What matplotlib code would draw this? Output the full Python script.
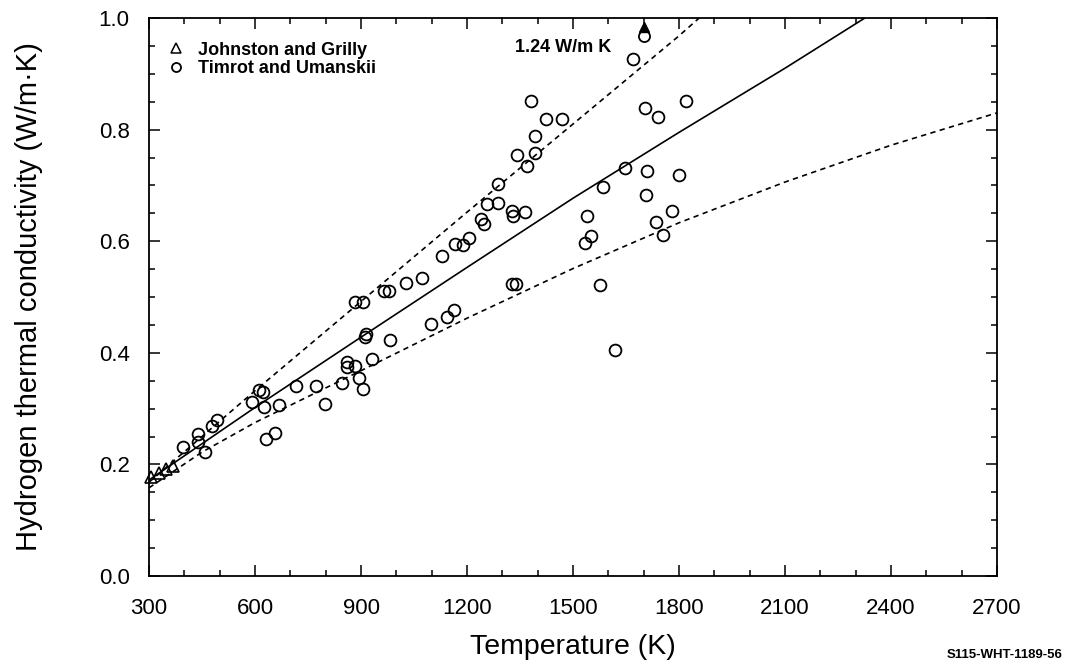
import matplotlib
matplotlib.use("Agg")
import matplotlib.pyplot as plt
from matplotlib.lines import Line2D
from matplotlib.ticker import MultipleLocator

plt.rcParams['font.family'] = ['Liberation Sans', 'DejaVu Sans']

# Johnston and Grilly measurements
jg_temp = [305, 327, 348, 368]
jg_k = [0.178, 0.184, 0.191, 0.198]

# Timrot and Umanskii measurements
tu_temp = [396, 439, 439, 459, 479, 493, 592, 612, 623, 626, 669, 632, 657,
           717, 774, 799, 845, 859, 859, 884, 893, 907, 930, 910, 913, 981,
           884, 907, 964, 978, 1026, 1074, 1097, 1143, 1162, 1327, 1338,
           1128, 1165, 1188, 1205, 1239, 1248, 1256, 1287, 1287, 1327, 1330,
           1364, 1341, 1370, 1392, 1392, 1381, 1424, 1469, 1670, 1704, 1741,
           1820, 1648, 1585, 1710, 1801, 1707, 1540, 1551, 1534, 1781, 1736,
           1756, 1577, 1620]
tu_k = [0.231, 0.254, 0.240, 0.222, 0.269, 0.280, 0.312, 0.333, 0.330, 0.303,
        0.306, 0.246, 0.256, 0.340, 0.340, 0.308, 0.346, 0.384, 0.375, 0.376,
        0.355, 0.335, 0.389, 0.428, 0.434, 0.423, 0.491, 0.491, 0.511, 0.511,
        0.525, 0.534, 0.452, 0.464, 0.477, 0.523, 0.523, 0.573, 0.595, 0.593,
        0.606, 0.640, 0.631, 0.667, 0.668, 0.702, 0.654, 0.645, 0.652, 0.754,
        0.735, 0.758, 0.789, 0.851, 0.819, 0.819, 0.927, 0.839, 0.823, 0.851,
        0.731, 0.697, 0.726, 0.719, 0.683, 0.645, 0.609, 0.597, 0.654, 0.634,
        0.611, 0.522, 0.405]

# Off-scale point
offscale_temp = 1700
offscale_k = 1.24
offscale_label = "1.24 W/m K"

# Recommended curve and its upper / lower bounds
fit_temp = [300, 600, 900, 1200, 1500, 1800, 2100, 2326]
fit_k = [0.172, 0.302, 0.428, 0.553, 0.677, 0.795, 0.910, 1.0]
upper_temp = [300, 600, 900, 1200, 1500, 1800, 1857]
upper_k = [0.168, 0.332, 0.492, 0.652, 0.810, 0.968, 1.0]
lower_temp = [300, 450, 600, 900, 1200, 1500, 1800, 2100, 2400, 2700]
lower_k = [0.158, 0.222, 0.275, 0.368, 0.462, 0.551, 0.633, 0.706, 0.772, 0.830]

x_ticks = [300, 600, 900, 1200, 1500, 1800, 2100, 2400, 2700]
y_ticks = [0.0, 0.2, 0.4, 0.6, 0.8, 1.0]

fig = plt.figure(figsize=(10.78, 6.69), dpi=100)
ax = fig.add_axes([149 / 1078, 1 - 576 / 669, (997 - 149) / 1078, (576 - 18) / 669])

ax.plot(fit_temp, fit_k, color='black', lw=1.2, solid_capstyle='butt', zorder=2)
ax.plot(upper_temp, upper_k, color='black', lw=1.2, linestyle=(0, (3.2, 2.6)), zorder=2)
ax.plot(lower_temp, lower_k, color='black', lw=1.2, linestyle=(0, (3.2, 2.6)), zorder=2)

ax.plot(tu_temp, tu_k, linestyle='none', marker='o', markersize=8.5,
        markerfacecolor='none', markeredgecolor='black', markeredgewidth=1.3,
        clip_on=False, zorder=3)
ax.plot(jg_temp, jg_k, linestyle='none', marker='^', markersize=8,
        markerfacecolor='none', markeredgecolor='black', markeredgewidth=1.2,
        clip_on=False, zorder=3)

# Off-scale value: shown pinned below the top of the axis with an arrow
top_k = 0.968
ax.plot([offscale_temp], [min(offscale_k, top_k)], linestyle='none', marker='o',
        markersize=8, markerfacecolor='none', markeredgecolor='black',
        markeredgewidth=1.3, zorder=3)
ax.plot([offscale_temp], [0.983], linestyle='none', marker='^', markersize=6.5,
        color='black', zorder=4, clip_on=False)
ax.text(1473, 0.948, offscale_label, ha='center', va='center', fontsize=13,
        fontweight='bold')

ax.set_xlim(300, 2700)
ax.set_ylim(0.0, 1.0)
ax.set_xticks(x_ticks)
ax.set_xticklabels([str(t) for t in x_ticks])
ax.set_yticks(y_ticks)
ax.set_yticklabels([f"{v:.1f}" for v in y_ticks])
ax.xaxis.set_minor_locator(MultipleLocator(100))
ax.yaxis.set_minor_locator(MultipleLocator(0.05))
ax.tick_params(which='both', direction='in', top=True, right=True, width=1.1)
ax.tick_params(which='major', length=8, labelsize=16)
ax.tick_params(axis='x', which='major', pad=16)
ax.tick_params(axis='y', which='major', pad=14)
ax.tick_params(which='minor', length=4)
for s in ax.spines.values():
    s.set_linewidth(1.3)

ax.set_xlabel("Temperature (K)", fontsize=20.5, labelpad=11)
ax.set_ylabel("Hydrogen thermal conductivity (W/m\u00b7K)", fontsize=21, labelpad=40)

handles = [
    Line2D([], [], linestyle='none', marker='^', markersize=6.5, markerfacecolor='none',
           markeredgecolor='black', markeredgewidth=1.1),
    Line2D([], [], linestyle='none', marker='o', markersize=6.5, markerfacecolor='none',
           markeredgecolor='black', markeredgewidth=1.3),
]
leg = ax.legend(handles, ["Johnston and Grilly", "Timrot and Umanskii"],
                loc='upper left', bbox_to_anchor=(0.0, 0.99), frameon=False,
                handlelength=1.0, handletextpad=0.7, labelspacing=0.1,
                borderaxespad=0.6, prop={'size': 13, 'weight': 'bold'})

fig.text(1063 / 1078, 1 - 655 / 669, "S115-WHT-1189-56", ha='right', va='center',
         fontsize=9.5, fontweight='bold')

fig.savefig("out.png", dpi=100)
